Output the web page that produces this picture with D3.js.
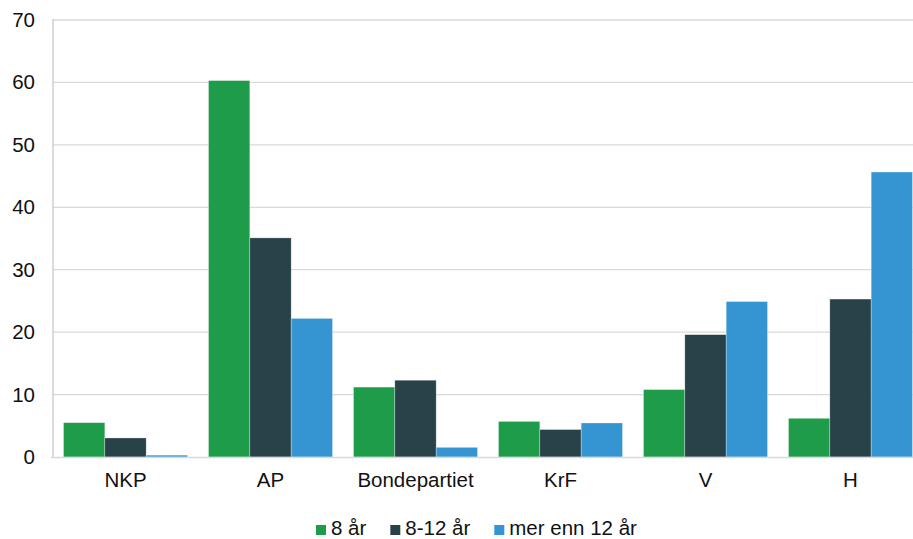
<!DOCTYPE html>
<html>
<head>
<meta charset="utf-8">
<script src="https://cdn.jsdelivr.net/npm/d3@7"></script>
<style>
  html, body { margin: 0; padding: 0; background: #fff; }
  svg { display: block; font-family: "Liberation Sans", Arial, sans-serif; }
</style>
</head>
<body>
<svg id="chart" width="913" height="539"></svg>
<script>
const categories = ["NKP", "AP", "Bondepartiet", "KrF", "V", "H"];
const seriesNames = ["8 år", "8-12 år", "mer enn 12 år"];
const values8 = [5.5, 60.3, 11.2, 5.7, 10.8, 6.2];
const values8to12 = [3.05, 35.1, 12.3, 4.4, 19.6, 25.3];
const valuesOver12 = [0.3, 22.2, 1.55, 5.45, 24.9, 45.65];
const yTicks = [0, 10, 20, 30, 40, 50, 60, 70];
const colors = ["#1e9c49", "#284249", "#3595d2"];

const seriesValues = [values8, values8to12, valuesOver12];
const data = categories.map((c, i) => ({
  cat: c,
  vals: seriesNames.map((s, j) => ({ series: s, idx: j, value: seriesValues[j][i] }))
}));

const svg = d3.select("#chart");
const mLeft = 53, mTop = 20, mBottom = 457, mRight = 913;
const groupStep = 145;
const fs = 20.5;

const x0 = d3.scaleBand().domain(categories).range([mLeft, mLeft + groupStep * categories.length]).padding(0);
const x1 = d3.scaleBand().domain(seriesNames).range([10.5, groupStep - 10.5]).padding(0);
const y = d3.scaleLinear().domain([0, 70]).range([mBottom, mTop]);

// gridlines
svg.append("g").selectAll("line").data(yTicks.filter(t => t > 0)).join("line")
  .attr("x1", mLeft).attr("x2", mRight)
  .attr("y1", d => y(d)).attr("y2", d => y(d))
  .attr("stroke", "#d9d9d9").attr("stroke-width", 1.3);

// y axis labels
const yAxis = d3.axisLeft(y).tickValues(yTicks).tickSize(0).tickPadding(0);
const gy = svg.append("g").attr("transform", `translate(${mLeft - 18},0)`).call(yAxis);
gy.select(".domain").remove();
gy.selectAll("text").attr("font-size", fs).attr("fill", "#111").attr("font-family", "'Liberation Sans', Arial, sans-serif");

// bars
const groups = svg.append("g").selectAll("g").data(data).join("g")
  .attr("transform", d => `translate(${x0(d.cat)},0)`);
groups.selectAll("rect").data(d => d.vals).join("rect")
  .attr("x", d => x1(d.series))
  .attr("width", x1.bandwidth())
  .attr("y", d => y(d.value))
  .attr("height", d => y(0) - y(d.value))
  .attr("fill", d => colors[d.idx])
  .attr("stroke", "#ffffff").attr("stroke-opacity", 0.5).attr("stroke-width", 0.6);

// axis lines
svg.append("line").attr("x1", mLeft).attr("x2", mLeft).attr("y1", mTop - 1).attr("y2", mBottom + 1)
  .attr("stroke", "#c8c8c8").attr("stroke-width", 1.3);
svg.append("line").attr("x1", mLeft - 2).attr("x2", mRight).attr("y1", mBottom + 0.5).attr("y2", mBottom + 0.5)
  .attr("stroke", "#d9d9d9").attr("stroke-width", 1.5);

// x axis labels
const xAxis = d3.axisBottom(x0).tickSize(0).tickPadding(0);
const gx = svg.append("g").attr("transform", `translate(0,${mBottom + 15})`).call(xAxis);
gx.select(".domain").remove();
gx.selectAll("text").attr("font-size", fs).attr("fill", "#111").attr("font-family", "'Liberation Sans', Arial, sans-serif");

// legend
const legend = svg.append("g");
let lx = 316;
seriesNames.forEach((s, i) => {
  legend.append("rect").attr("x", lx).attr("y", 525).attr("width", 10).attr("height", 10).attr("fill", colors[i]);
  const t = legend.append("text").attr("x", lx + 15).attr("y", 534.5)
    .attr("font-size", fs).attr("fill", "#111").text(s);
  const w = t.node().getComputedTextLength();
  lx = lx + 15 + w + 24;
});
</script>
</body>
</html>
